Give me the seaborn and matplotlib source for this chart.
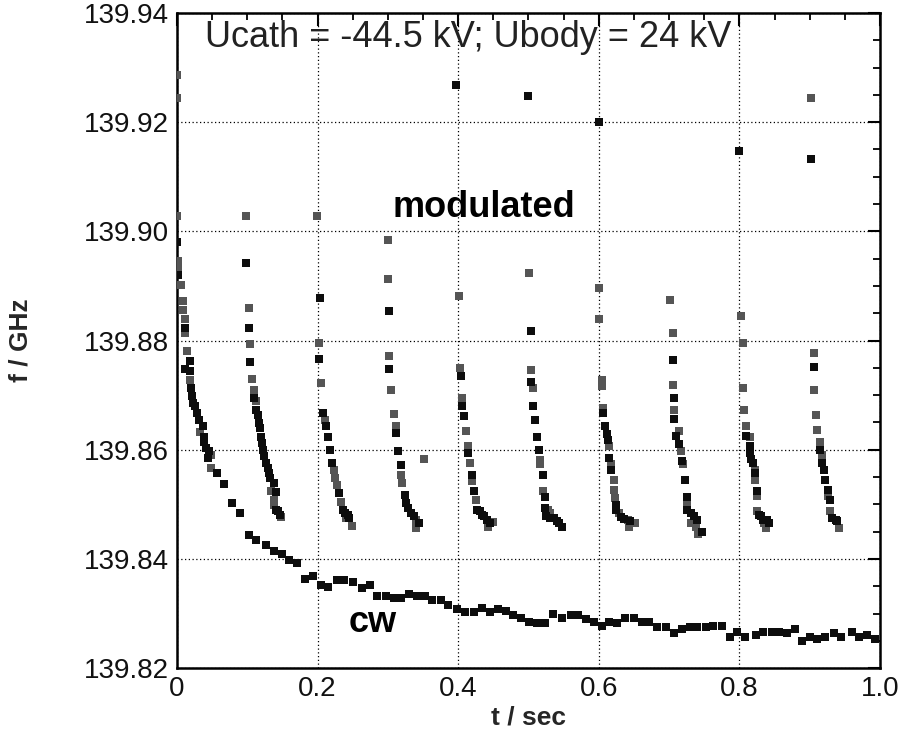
import numpy as np
import pandas as pd
import matplotlib
matplotlib.use("Agg")
import matplotlib.pyplot as plt
from matplotlib.ticker import MultipleLocator
import seaborn as sns

# ---------------- data ----------------
cw_t = [0.057, 0.067, 0.078, 0.090, 0.102, 0.113, 0.126, 0.138, 0.149, 0.160, 0.171, 0.182, 0.193,
        0.205, 0.215, 0.227, 0.238, 0.250, 0.263, 0.275, 0.285, 0.297, 0.308, 0.319, 0.330, 0.342,
        0.353, 0.363, 0.375, 0.386, 0.398, 0.410, 0.422, 0.434, 0.445, 0.456, 0.468, 0.478, 0.490,
        0.501, 0.512, 0.523, 0.535, 0.548, 0.560, 0.571, 0.582, 0.593, 0.605, 0.615, 0.626, 0.638,
        0.650, 0.661, 0.672, 0.683, 0.696, 0.707, 0.718, 0.730, 0.740, 0.752, 0.763, 0.775, 0.786,
        0.797, 0.808, 0.824, 0.834, 0.846, 0.856, 0.868, 0.879, 0.889, 0.900, 0.910, 0.922, 0.934,
        0.945, 0.960, 0.970, 0.981, 0.993]
cw_f = [139.8557, 139.8537, 139.8502, 139.8484, 139.8444, 139.8435, 139.8426, 139.8415, 139.8409,
        139.8398, 139.8393, 139.8363, 139.8368, 139.8353, 139.8349, 139.8361, 139.8361, 139.8358,
        139.8347, 139.8352, 139.8332, 139.8332, 139.8328, 139.8328, 139.8336, 139.8332, 139.8332,
        139.8325, 139.8325, 139.8315, 139.8308, 139.8303, 139.8303, 139.8310, 139.8303, 139.8308,
        139.8304, 139.8297, 139.8292, 139.8284, 139.8282, 139.8282, 139.8300, 139.8292, 139.8297,
        139.8297, 139.8290, 139.8284, 139.8278, 139.8284, 139.8282, 139.8292, 139.8292, 139.8284,
        139.8284, 139.8275, 139.8275, 139.8265, 139.8271, 139.8275, 139.8275, 139.8275, 139.8278,
        139.8278, 139.8257, 139.8267, 139.8257, 139.8260, 139.8267, 139.8267, 139.8267, 139.8265,
        139.8271, 139.8249, 139.8257, 139.8253, 139.8257, 139.8265, 139.8257, 139.8267, 139.8257,
        139.8260, 139.8253]

mod_black_t = [0.000, 0.002, 0.012, 0.018, 0.012, 0.018, 0.020, 0.022, 0.023, 0.025, 0.028, 0.032,
               0.037, 0.039, 0.039, 0.041, 0.045, 0.044,
               0.098, 0.102, 0.104, 0.109, 0.112, 0.115, 0.116, 0.118, 0.120, 0.121, 0.122, 0.124,
               0.126, 0.129, 0.131, 0.133, 0.138, 0.141, 0.141, 0.144, 0.146,
               0.204, 0.202, 0.208, 0.212, 0.215, 0.218, 0.221, 0.231, 0.236, 0.239, 0.243, 0.245,
               0.302, 0.302, 0.311, 0.315, 0.319, 0.324, 0.326, 0.329, 0.333, 0.337, 0.344,
               0.397, 0.404, 0.406, 0.408, 0.414, 0.420, 0.422, 0.427, 0.431, 0.434, 0.437, 0.441, 0.445,
               0.499, 0.503, 0.503, 0.506, 0.509, 0.512, 0.515, 0.521, 0.523, 0.524, 0.525, 0.530,
               0.536, 0.540, 0.543, 0.547,
               0.600, 0.606, 0.609, 0.612, 0.613, 0.615, 0.618, 0.624, 0.625, 0.632, 0.636, 0.644,
               0.705, 0.707, 0.707, 0.710, 0.714, 0.718, 0.722, 0.725, 0.726, 0.731, 0.736, 0.740, 0.747,
               0.799, 0.810, 0.815, 0.815, 0.816, 0.819, 0.822, 0.825, 0.828, 0.831, 0.834, 0.839, 0.842,
               0.902, 0.906, 0.915, 0.917, 0.921, 0.922, 0.926, 0.929, 0.932, 0.937, 0.939]
mod_black_f = [139.8981, 139.8921, 139.8823, 139.8762, 139.8748, 139.8744, 139.8713, 139.8698,
               139.8686, 139.8680, 139.8667, 139.8654, 139.8643, 139.8624, 139.8615, 139.8603,
               139.8597, 139.8585,
               139.8943, 139.8823, 139.8760, 139.8694, 139.8673, 139.8664, 139.8649, 139.8640,
               139.8624, 139.8612, 139.8600, 139.8588, 139.8576, 139.8566, 139.8557, 139.8548,
               139.8540, 139.8522, 139.8490, 139.8487, 139.8481,
               139.8878, 139.8766, 139.8667, 139.8643, 139.8623, 139.8599, 139.8576, 139.8521,
               139.8490, 139.8484, 139.8481, 139.8475,
               139.8854, 139.8748, 139.8631, 139.8597, 139.8572, 139.8517, 139.8502, 139.8493,
               139.8484, 139.8478, 139.8466,
               139.9269, 139.8735, 139.8680, 139.8661, 139.8594, 139.8554, 139.8524, 139.8490,
               139.8487, 139.8481, 139.8478, 139.8472, 139.8466,
               139.9248, 139.8817, 139.8725, 139.8680, 139.8655, 139.8623, 139.8599, 139.8554,
               139.8514, 139.8493, 139.8478, 139.8475, 139.8475, 139.8469, 139.8466, 139.8459,
               139.9201, 139.8668, 139.8644, 139.8628, 139.8618, 139.8585, 139.8563, 139.8499,
               139.8490, 139.8477, 139.8473, 139.8469,
               139.8765, 139.8694, 139.8656, 139.8626, 139.8611, 139.8579, 139.8545, 139.8513,
               139.8490, 139.8484, 139.8478, 139.8472, 139.8450,
               139.9147, 139.8626, 139.8606, 139.8594, 139.8583, 139.8576, 139.8557, 139.8525,
               139.8481, 139.8478, 139.8472, 139.8472, 139.8466,
               139.9132, 139.8751, 139.8599, 139.8576, 139.8563, 139.8545, 139.8527, 139.8508,
               139.8475, 139.8472, 139.8469]

mod_gray_t = [0.000, 0.000, 0.000, 0.002, 0.002, 0.006, 0.009, 0.009, 0.012, 0.012, 0.014, 0.018,
              0.033, 0.049, 0.049,
              0.098, 0.102, 0.104, 0.107, 0.109, 0.113, 0.134, 0.138, 0.138, 0.148,
              0.199, 0.202, 0.205, 0.211, 0.223, 0.225, 0.227, 0.233, 0.241, 0.249,
              0.300, 0.300, 0.302, 0.304, 0.308, 0.311, 0.319, 0.320, 0.340, 0.340, 0.351,
              0.401, 0.403, 0.406, 0.411, 0.414, 0.417, 0.420, 0.426, 0.442, 0.450,
              0.501, 0.503, 0.507, 0.516, 0.517, 0.521, 0.528, 0.531,
              0.600, 0.600, 0.604, 0.604, 0.606, 0.615, 0.618, 0.621, 0.621, 0.623, 0.629, 0.641,
              0.643, 0.651,
              0.702, 0.705, 0.705, 0.707, 0.714, 0.717, 0.720, 0.726, 0.731, 0.739, 0.741,
              0.803, 0.805, 0.805, 0.807, 0.810, 0.815, 0.822, 0.822, 0.825, 0.825, 0.835, 0.838,
              0.902, 0.906, 0.906, 0.909, 0.911, 0.914, 0.917, 0.926, 0.929, 0.942]
mod_gray_f = [139.9286, 139.9245, 139.9029, 139.8946, 139.8935, 139.8902, 139.8872, 139.8856,
              139.8839, 139.8813, 139.8780, 139.8728, 139.8633, 139.8591, 139.8566,
              139.9029, 139.8860, 139.8793, 139.8730, 139.8710, 139.8689, 139.8524, 139.8508,
              139.8499, 139.8477,
              139.9029, 139.8796, 139.8722, 139.8655, 139.8563, 139.8548, 139.8536, 139.8505,
              139.8475, 139.8461,
              139.8985, 139.8912, 139.8771, 139.8709, 139.8666, 139.8644, 139.8554, 139.8539,
              139.8472, 139.8456, 139.8583,
              139.8881, 139.8750, 139.8695, 139.8634, 139.8606, 139.8576, 139.8542, 139.8508,
              139.8459, 139.8467,
              139.8923, 139.8746, 139.8713, 139.8582, 139.8573, 139.8524, 139.8490, 139.8484,
              139.8897, 139.8839, 139.8728, 139.8716, 139.8677, 139.8606, 139.8573, 139.8545,
              139.8527, 139.8511, 139.8484, 139.8472, 139.8459, 139.8466,
              139.8875, 139.8813, 139.8719, 139.8673, 139.8634, 139.8597, 139.8573, 139.8499,
              139.8466, 139.8459, 139.8446,
              139.8845, 139.8796, 139.8713, 139.8673, 139.8643, 139.8624, 139.8563, 139.8545,
              139.8516, 139.8487, 139.8466, 139.8456,
              139.9245, 139.8777, 139.8710, 139.8663, 139.8637, 139.8615, 139.8591, 139.8515,
              139.8487, 139.8456]

x_ticks = [0, 0.2, 0.4, 0.6, 0.8, 1.0]
x_ticklabels = ["0", "0.2", "0.4", "0.6", "0.8", "1.0"]
y_ticks = [139.82, 139.84, 139.86, 139.88, 139.90, 139.92, 139.94]
y_ticklabels = ["139.82", "139.84", "139.86", "139.88", "139.90", "139.92", "139.94"]

# ---------------- plot ----------------
sns.set_theme(style="white")
plt.rcParams['font.family'] = ['Liberation Sans', 'DejaVu Sans']

fig = plt.figure(figsize=(9.03, 7.44), dpi=100)
ax = fig.add_axes([0.196, 0.102, 0.7785, 0.8805])

df_gray = pd.DataFrame({"t": mod_gray_t, "f": mod_gray_f})
df_black = pd.DataFrame({"t": mod_black_t, "f": mod_black_f})
df_cw = pd.DataFrame({"t": cw_t, "f": cw_f})

kw = dict(marker="s", s=26, linewidth=0, legend=False, ax=ax, zorder=3)
sns.scatterplot(data=df_gray, x="t", y="f", color="#555555", **kw)
sns.scatterplot(data=df_black, x="t", y="f", color="#0d0d0d", **kw)
sns.scatterplot(data=df_cw, x="t", y="f", color="#0d0d0d", **kw)

ax.set_xlim(0, 1.0)
ax.set_ylim(139.82, 139.94)
ax.set_xticks(x_ticks)
ax.set_xticklabels(x_ticklabels)
ax.set_yticks(y_ticks)
ax.set_yticklabels(y_ticklabels)
ax.xaxis.set_minor_locator(MultipleLocator(0.05))
ax.yaxis.set_minor_locator(MultipleLocator(0.005))

ax.grid(True, which="major", color="black", linestyle=(0, (1, 2)), linewidth=0.9, zorder=1)
ax.tick_params(which="both", direction="in", top=True, right=True, color="black",
               labelsize=20, labelcolor="#111111")
ax.tick_params(which="major", length=9, width=1.5, pad=6)
ax.tick_params(which="minor", length=5, width=1.3)
for sp in ax.spines.values():
    sp.set_color("black")
    sp.set_linewidth(1.8)

ax.set_xlabel("t / sec", fontsize=19, fontweight="bold", labelpad=2)
ax.set_ylabel("f / GHz", fontsize=19, fontweight="bold")
ax.yaxis.set_label_coords(-0.205, 0.5)

ax.text(0.04, 139.9356, "Ucath = -44.5 kV; Ubody = 24 kV", fontsize=26,
        ha="left", va="center", color="#222222", zorder=4)
ax.text(0.437, 139.9044, "modulated", fontsize=26, fontweight="bold",
        ha="center", va="center", color="black", zorder=4)
ax.text(0.279, 139.8283, "cw", fontsize=26, fontweight="bold",
        ha="center", va="center", color="black", zorder=4)

fig.savefig("out.png", dpi=100, facecolor="white")
